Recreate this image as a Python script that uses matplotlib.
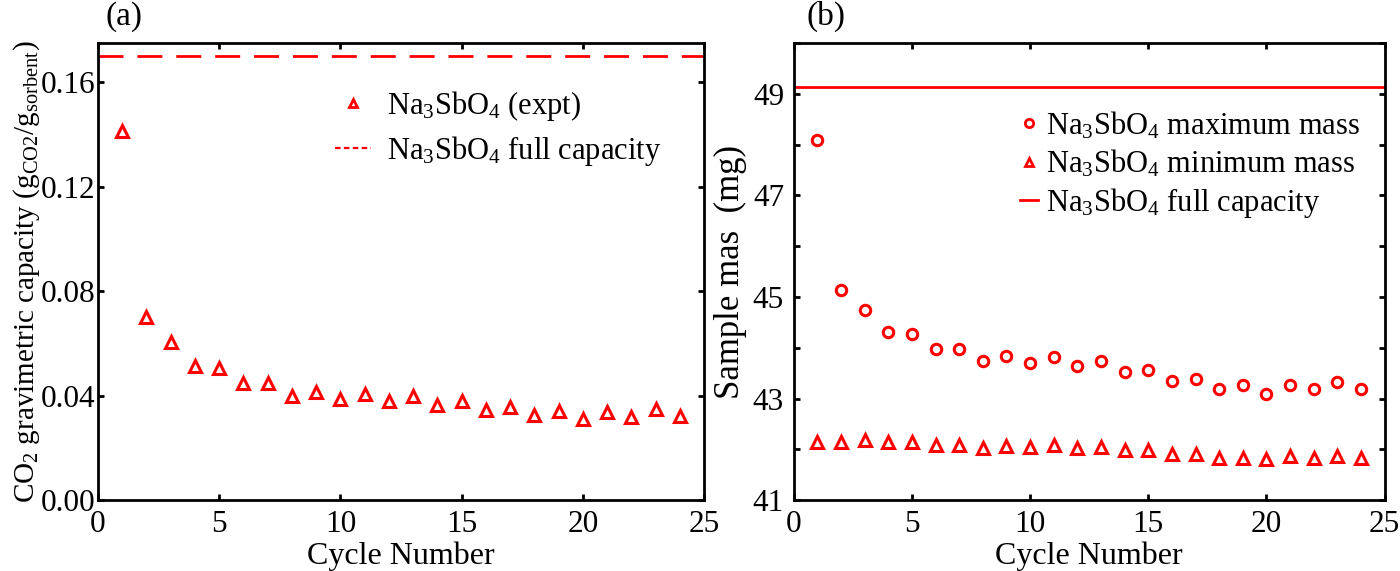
import matplotlib
matplotlib.use("Agg")
import matplotlib.pyplot as plt
from matplotlib.lines import Line2D

# data
cycles = list(range(1, 25))
capacity = [0.1415, 0.0700, 0.0605, 0.0513, 0.0504, 0.0449, 0.0449, 0.0399,
            0.0413, 0.0387, 0.0407, 0.0378, 0.0397, 0.0365, 0.0380, 0.0343,
            0.0355, 0.0324, 0.0342, 0.0309, 0.0337, 0.0318, 0.0350, 0.0323]
full_capacity = 0.170

max_mass = [48.10, 45.13, 44.74, 44.32, 44.28, 43.98, 43.98, 43.73, 43.83,
            43.69, 43.81, 43.64, 43.74, 43.53, 43.57, 43.35, 43.39, 43.19,
            43.26, 43.09, 43.26, 43.18, 43.32, 43.18]
min_mass = [42.14, 42.14, 42.18, 42.14, 42.14, 42.09, 42.08, 42.03, 42.07,
            42.05, 42.09, 42.03, 42.05, 41.99, 41.99, 41.91, 41.90, 41.82,
            41.82, 41.81, 41.86, 41.83, 41.87, 41.83]
full_mass = 49.13

plt.rcParams["font.family"] = ["Liberation Serif", "DejaVu Serif"]
plt.rcParams["mathtext.fontset"] = "custom"
plt.rcParams["mathtext.rm"] = "Liberation Serif"
plt.rcParams["mathtext.it"] = "Liberation Serif"

red = "#ff0000"
na = r"Na$_3$SbO$_4$"
tick_fs = 22.5
lab_fs = 23
leg_fs = 22

fig = plt.figure(figsize=(14, 5.71), dpi=100)
ax1 = fig.add_axes([0.070, 0.1243, 0.433, 0.800])
ax2 = fig.add_axes([0.567, 0.1243, 0.422, 0.800])

for ax in (ax1, ax2):
    for sp in ax.spines.values():
        sp.set_linewidth(2.0)
    ax.tick_params(direction="in", top=True, right=True, width=2.0,
                   length=4.5, labelsize=tick_fs, pad=7)
    ax.tick_params(which="minor", direction="in", top=True, right=True,
                   width=2.0, length=4.5)
    ax.set_xlim(0, 25)
    ax.set_xticks([0, 5, 10, 15, 20, 25])
    ax.set_xlabel("Cycle Number", fontsize=lab_fs, labelpad=2)

# (a)
ax1.plot(cycles, capacity, linestyle="none", marker="^", markersize=8,
         markerfacecolor="white", markeredgecolor=red, markeredgewidth=2.2)
ax1.axhline(full_capacity, color=red, linewidth=2.0, dashes=(9, 5))
ax1.set_ylim(0, 0.175)
ax1.set_yticks([0.0, 0.04, 0.08, 0.12, 0.16])
ax1.set_yticklabels(["0.00", "0.04", "0.08", "0.12", "0.16"])
ax1.tick_params(axis="y", pad=2)
ax1.set_ylabel(r"CO$_2$ gravimetric capacity (g$_{\rm CO2}$/g$_{\rm sorbent}$)",
               fontsize=21)
ax1.yaxis.set_label_coords(-0.093, 0.5)
h1 = [Line2D([], [], linestyle="none", marker="^", markersize=6,
             markerfacecolor="white", markeredgecolor=red, markeredgewidth=2.0),
      Line2D([], [], color=red, linewidth=1.6, dashes=(2.5, 1.5))]
ax1.legend(h1, [na + " (expt)", na + " full capacity"], loc="upper right",
           bbox_to_anchor=(0.975, 0.96), frameon=False, fontsize=leg_fs,
           handlelength=1.15, handletextpad=0.55, labelspacing=0.35)
ax1.text(0.012, 1.025, "(a)", transform=ax1.transAxes, fontsize=24,
         ha="left", va="bottom")

# (b)
ax2.plot(cycles, max_mass, linestyle="none", marker="o", markersize=7.5,
         markerfacecolor="white", markeredgecolor=red, markeredgewidth=2.2)
ax2.plot(cycles, min_mass, linestyle="none", marker="^", markersize=8,
         markerfacecolor="white", markeredgecolor=red, markeredgewidth=2.2)
ax2.axhline(full_mass, color=red, linewidth=2.0)
ax2.set_ylim(41, 50)
ax2.set_yticks([41, 43, 45, 47, 49])
ax2.set_yticks([42, 44, 46, 48, 50], minor=True)
ax2.set_ylabel("Sample mas  (mg)", fontsize=25, labelpad=4)
h2 = [Line2D([], [], linestyle="none", marker="o", markersize=6,
             markerfacecolor="white", markeredgecolor=red, markeredgewidth=2.0),
      Line2D([], [], linestyle="none", marker="^", markersize=6,
             markerfacecolor="white", markeredgecolor=red, markeredgewidth=2.0),
      Line2D([], [], color=red, linewidth=2.0)]
ax2.legend(h2, [na + " maximum mass", na + " minimum mass",
                na + " full capacity"], loc="upper right",
           bbox_to_anchor=(1.005, 0.915), frameon=False, fontsize=leg_fs,
           handlelength=0.6, handletextpad=0.25, labelspacing=0.22)
ax2.text(0.022, 1.025, "(b)", transform=ax2.transAxes, fontsize=24,
         ha="left", va="bottom")

fig.savefig("out.png", dpi=100)
